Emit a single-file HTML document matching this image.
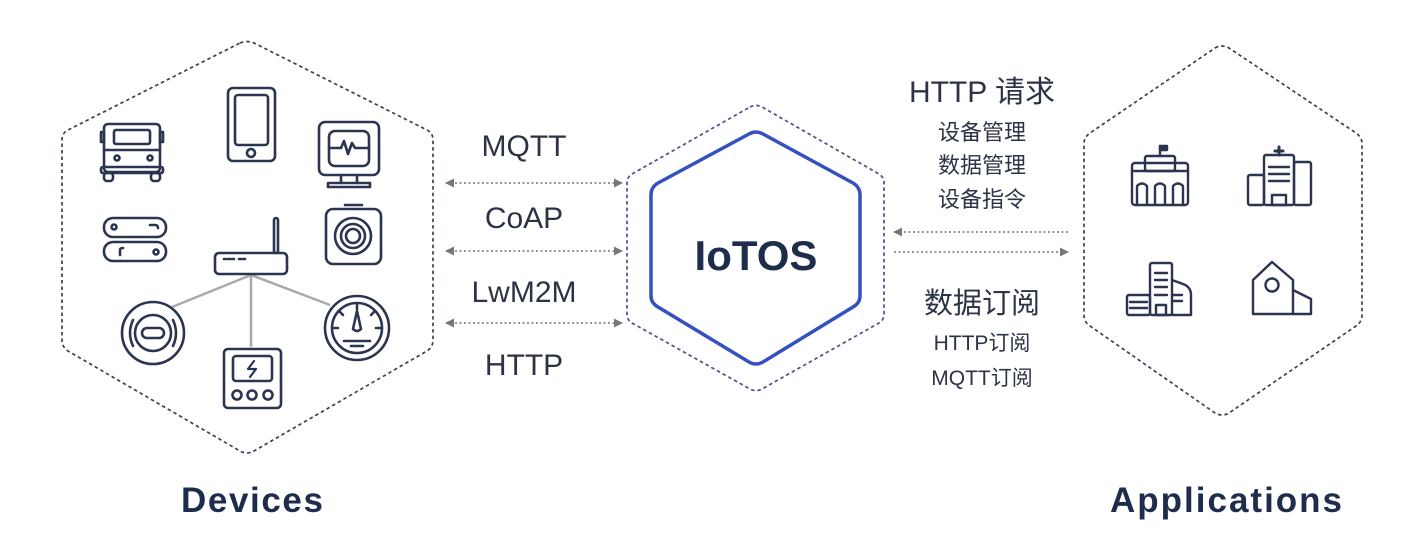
<!DOCTYPE html>
<html><head><meta charset="utf-8"><style>
html,body{margin:0;padding:0;background:#fff;}
body{width:1408px;height:545px;overflow:hidden;}
svg text{font-family:"Liberation Sans","Noto Sans CJK SC",sans-serif;fill:#2b3345;}
</style></head><body>
<svg width="1408" height="545" viewBox="0 0 1408 545" xmlns="http://www.w3.org/2000/svg">
<defs>
<marker id="ah" markerWidth="9" markerHeight="9" refX="8" refY="4.5" orient="auto-start-reverse" markerUnits="userSpaceOnUse"><path d="M0,0 L9,4.5 L0,9 z" fill="#777"/></marker>
</defs>
<!-- hexagons -->
<g fill="none" stroke="#3a4257" stroke-width="1.7" stroke-dasharray="3.5,3" stroke-linejoin="round">
<path d="M240,43 Q247,40 254,43 L427,130 Q433,133 433,140 L433,340 Q433,347 427,351 L254,451 Q247,455 240,451 L68,351 Q62,347 62,340 L62,140 Q62,133 68,130 Z"/>
<path d="M1215,48 Q1222,44 1229,48 L1356,133 Q1362,137 1362,144 L1362,315 Q1362,322 1356,326 L1229,413 Q1222,417 1215,413 L1090,326 Q1084,322 1084,315 L1084,144 Q1084,137 1090,133 Z"/>
<path d="M750,107 Q756,104 762,107 L879,174 Q884,177 884,183 L884,314 Q884,320 879,323 L762,389 Q756,392 750,389 L632,323 Q627,320 627,314 L627,183 Q627,177 632,174 Z" stroke="#4a4f9a"/>
</g>
<path d="M749,134 Q756,130 763,134 L853,183 Q860,187 860,195 L860,296 Q860,303 853,307 L763,362 Q756,366 749,362 L658,307 Q651,303 651,296 L651,195 Q651,187 658,183 Z" fill="none" stroke="#3550c0" stroke-width="3.5" stroke-linejoin="round"/>
<text x="756" y="270" text-anchor="middle" font-size="42" font-weight="bold" style="fill:#1f2d4d">IoTOS</text>
<!-- arrows -->
<g stroke="#888" stroke-width="1.8" stroke-dasharray="2,2.5" fill="none">
<line x1="446" y1="183" x2="622" y2="183" marker-start="url(#ah)" marker-end="url(#ah)"/>
<line x1="446" y1="251" x2="622" y2="251" marker-start="url(#ah)" marker-end="url(#ah)"/>
<line x1="446" y1="323" x2="622" y2="323" marker-start="url(#ah)" marker-end="url(#ah)"/>
<line x1="1068" y1="232" x2="894" y2="232" marker-end="url(#ah)"/>
<line x1="894" y1="252" x2="1068" y2="252" marker-end="url(#ah)"/>
</g>
<!-- protocol labels -->
<g font-size="30" text-anchor="middle">
<text x="524" y="156">MQTT</text>
<text x="524" y="228">CoAP</text>
<text x="524" y="302">LwM2M</text>
<text x="524" y="375">HTTP</text>
</g>
<g text-anchor="middle">
<text x="982" y="102" font-size="30">HTTP 请求</text>
<text x="982" y="140" font-size="22">设备管理</text>
<text x="982" y="173" font-size="22">数据管理</text>
<text x="982" y="207" font-size="22">设备指令</text>
<text x="982" y="313" font-size="29">数据订阅</text>
<text x="982" y="350" font-size="21">HTTP订阅</text>
<text x="982" y="385" font-size="21">MQTT订阅</text>
</g>
<text x="181" y="512" font-size="35" font-weight="bold" letter-spacing="1.6" style="fill:#1f2d4d">Devices</text>
<text x="1110" y="512" font-size="35" font-weight="bold" letter-spacing="2" style="fill:#1f2d4d">Applications</text>
<!-- router lines -->
<g stroke="#aaa" stroke-width="2.5">
<line x1="251" y1="275" x2="172" y2="307"/>
<line x1="251" y1="275" x2="251" y2="347"/>
<line x1="251" y1="275" x2="330" y2="305"/>
</g>
<!-- device icons -->
<g fill="none" stroke="#2b3450" stroke-width="2.6" stroke-linejoin="round" stroke-linecap="round">
<rect x="104" y="124" width="56" height="48" rx="4"/>
<rect x="114" y="130" width="36" height="14" rx="2"/>
<line x1="104" y1="150" x2="160" y2="150"/>
<rect x="101" y="167" width="62" height="6" rx="2"/>
<circle cx="117" cy="158" r="2.5"/><circle cx="150" cy="158" r="2.5"/>
<rect x="104" y="173" width="9" height="8" rx="3"/><rect x="151" y="173" width="9" height="8" rx="3"/>
<rect x="101" y="132" width="3" height="10"/><rect x="160" y="132" width="3" height="10"/>
<rect x="228" y="88" width="47" height="73" rx="5"/>
<rect x="235" y="95" width="33" height="50" rx="3"/>
<circle cx="251" cy="153" r="4"/>
<rect x="319" y="122" width="60" height="53" rx="6"/>
<rect x="329" y="131" width="40" height="35" rx="6"/>
<path d="M329,148 L341,148 L344,141 L348,154 L352,143 L355,148 L369,148"/>
<line x1="341" y1="175" x2="341" y2="183"/><line x1="357" y1="175" x2="357" y2="183"/>
<rect x="328" y="183" width="42" height="4"/>
<rect x="104" y="218" width="62" height="19" rx="9"/>
<rect x="104" y="242" width="62" height="19" rx="9"/>
<circle cx="114" cy="227" r="2.5"/><circle cx="156" cy="252" r="2.5"/>
<path d="M150,225 L155,225 Q158,225 158,228"/><path d="M120,255 L120,250 Q120,248 123,248"/>
<rect x="215" y="253" width="72" height="21" rx="4"/>
<rect x="274" y="218" width="4" height="35" rx="2"/>
<line x1="224" y1="259" x2="235" y2="259" stroke-dasharray="2,2"/>
<line x1="239" y1="259" x2="246" y2="259" stroke-dasharray="2,2"/>
<rect x="326" y="209" width="55" height="55" rx="7"/>
<line x1="345" y1="205" x2="362" y2="205"/>
<circle cx="353" cy="236" r="18"/><circle cx="353" cy="236" r="12"/><circle cx="353" cy="236" r="7"/>
<circle cx="153" cy="333" r="31"/>
<circle cx="153" cy="333" r="18"/>
<rect x="142" y="328" width="22" height="10" rx="5"/>
<path d="M133,320 Q127,333 133,346"/><path d="M173,320 Q179,333 173,346"/>
<rect x="224" y="349" width="57" height="59" rx="4"/>
<rect x="233" y="356" width="39" height="25" rx="3"/>
<path d="M254,361 L248,369 L256,369 L250,377" stroke-width="2.2"/>
<circle cx="237" cy="395" r="4.5"/><circle cx="252" cy="395" r="4.5"/><circle cx="268" cy="395" r="4.5"/>
<circle cx="357" cy="328" r="32"/>
<circle cx="357" cy="328" r="25"/>
<path d="M357,311 L353,329 Q357,333 361,329 Z"/>
<line x1="344" y1="341" x2="370" y2="341"/><line x1="351" y1="346" x2="363" y2="346"/>
<line x1="357" y1="305" x2="357" y2="309"/><line x1="340" y1="312" x2="343" y2="315"/><line x1="374" y1="312" x2="371" y2="315"/>
<line x1="334" y1="328" x2="338" y2="328"/><line x1="380" y1="328" x2="376" y2="328"/>
</g>
<!-- app icons -->
<g fill="none" stroke="#2b3450" stroke-width="2.4" stroke-linejoin="round" stroke-linecap="round">
<rect x="1132" y="163" width="56" height="42" rx="3"/>
<rect x="1145" y="156" width="30" height="15" rx="2"/>
<line x1="1132" y1="171" x2="1188" y2="171"/>
<line x1="1160" y1="156" x2="1160" y2="146"/>
<rect x="1160" y="146" width="7" height="4" fill="#2b3450"/>
<path d="M1137,205 L1137,186 Q1142,181 1147,186 L1147,205"/>
<path d="M1155,205 L1155,186 Q1160,181 1165,186 L1165,205"/>
<path d="M1173,205 L1173,186 Q1178,181 1183,186 L1183,205"/>
<rect x="1248" y="175" width="16" height="30" rx="2"/>
<rect x="1264" y="155" width="30" height="50" rx="2"/>
<rect x="1294" y="162" width="17" height="43" rx="2"/>
<line x1="1269" y1="167" x2="1289" y2="167"/><line x1="1269" y1="174" x2="1289" y2="174"/><line x1="1269" y1="181" x2="1289" y2="181"/>
<rect x="1272" y="195" width="14" height="10"/>
<path d="M1279,147 L1279,155 M1275,151 L1283,151" stroke-width="3"/>
<rect x="1150" y="263" width="22" height="52" rx="2"/>
<path d="M1172,280 L1183,284 Q1191,287 1191,295 L1191,315 L1172,315"/>
<rect x="1127" y="295" width="23" height="20" rx="2"/>
<line x1="1155" y1="273" x2="1167" y2="273"/><line x1="1155" y1="280" x2="1167" y2="280"/><line x1="1155" y1="287" x2="1167" y2="287"/><line x1="1155" y1="295" x2="1167" y2="295"/>
<line x1="1172" y1="295" x2="1182" y2="295"/><line x1="1172" y1="301" x2="1182" y2="301"/><line x1="1130" y1="302" x2="1147" y2="302"/><line x1="1130" y1="308" x2="1147" y2="308"/>
<rect x="1156" y="305" width="10" height="10"/>
<path d="M1253,314 L1253,280 L1272,262 L1293,280 L1293,314 Z"/>
<path d="M1293,290 L1311,299 L1311,314 L1293,314"/>
<circle cx="1272" cy="285" r="6.5"/>
</g>
</svg>
</body></html>
